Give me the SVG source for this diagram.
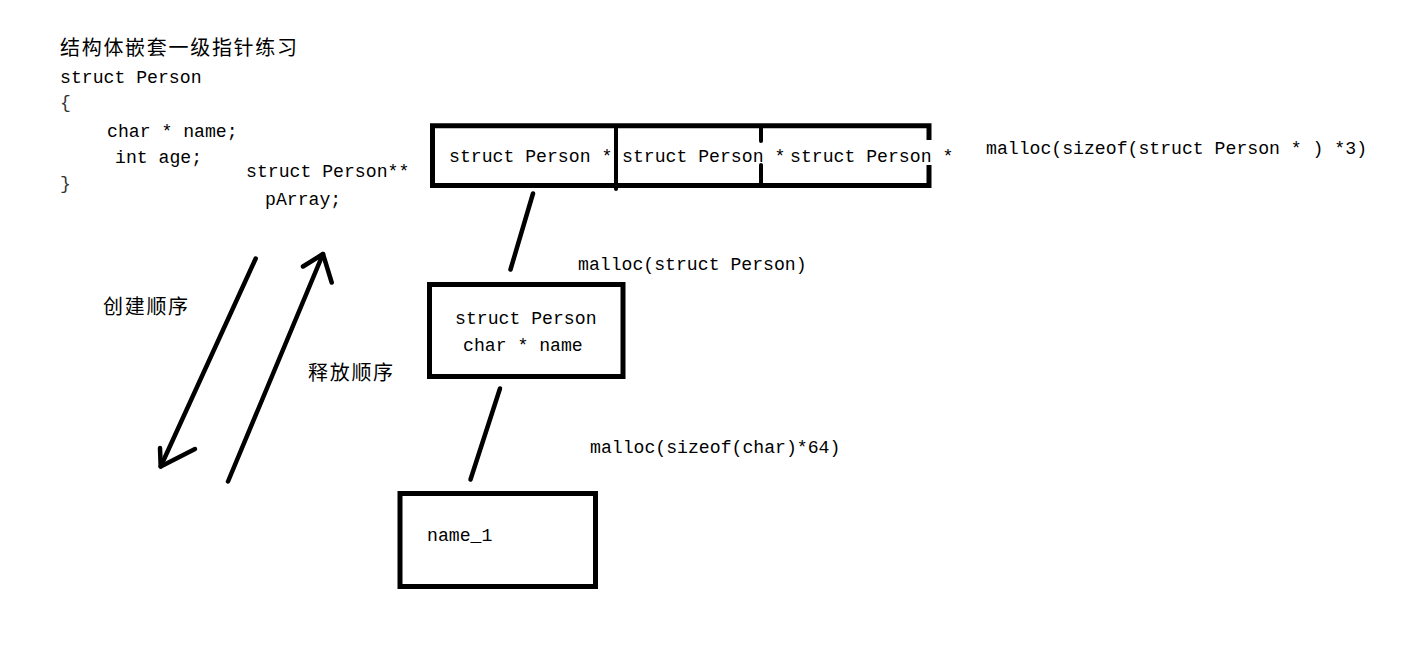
<svg xmlns="http://www.w3.org/2000/svg" width="1424" height="648" viewBox="0 0 1424 648">
  <style>
    .code { font-family: "Liberation Mono", "Noto Sans CJK SC", monospace; font-size: 18.15px; fill: #000; }
    .cjk { font-family: "Noto Sans CJK SC", sans-serif; font-size: 20px; fill: #000; letter-spacing: 1.7px; }
    .brace { fill: #333; }
    .box { fill: #fff; stroke: #000; stroke-width: 5; stroke-linejoin: miter; }
    .edge { fill: none; stroke: #000; stroke-width: 5; stroke-linecap: butt; }
    .div { stroke: #000; stroke-width: 4; stroke-linecap: round; }
    .conn { fill: none; stroke: #000; stroke-width: 4.5; stroke-linecap: round; stroke-linejoin: round; }
  </style>
  <rect x="0" y="0" width="1424" height="648" fill="#fff"/>

  <g id="code-block">
    <text class="cjk" x="60" y="55">结构体嵌套一级指针练习</text>
    <text class="code" x="60" y="83">struct Person</text>
    <text class="code brace" x="60" y="108">{</text>
    <text class="code" x="107" y="137">char * name;</text>
    <text class="code" x="115" y="163">int age;</text>
    <text class="code brace" x="60" y="189">}</text>
  </g>

  <g id="parray">
    <text class="code" x="246" y="177">struct Person**</text>
    <text class="code" x="265" y="205">pArray;</text>
  </g>

  <g id="pointer-array">
    <path class="edge" d="M929 140 V125.8 H432.5 V185.5 H929 V165"/>
    <line class="div" x1="616" y1="127" x2="616" y2="189"/>
    <line class="div" x1="761" y1="127" x2="761" y2="141" stroke-linecap="butt"/>
    <line class="div" x1="761" y1="165" x2="761" y2="185" stroke-linecap="butt"/>
    <text class="code" x="449" y="162">struct Person *</text>
    <text class="code" x="622" y="162">struct Person *</text>
    <text class="code" x="790" y="162">struct Person *</text>
  </g>

  <g id="person-node">
    <rect class="box" x="429.5" y="284.5" width="193.5" height="92"/>
    <text class="code" x="455" y="324">struct Person</text>
    <text class="code" x="463" y="351">char * name</text>
  </g>

  <g id="name-node">
    <rect class="box" x="400" y="493.5" width="195.5" height="93"/>
    <text class="code" x="427" y="541">name_1</text>
  </g>

  <g id="labels">
    <text class="code" x="986" y="154">malloc(sizeof(struct Person * ) *3)</text>
    <text class="code" x="578" y="270">malloc(struct Person)</text>
    <text class="code" x="590" y="453">malloc(sizeof(char)*64)</text>
    <text class="cjk" x="103" y="314">创建顺序</text>
    <text class="cjk" x="308" y="380">释放顺序</text>
  </g>

  <g id="connectors">
    <line class="conn" x1="533" y1="193.5" x2="510.5" y2="269.5"/>
    <line class="conn" x1="500" y1="388.5" x2="470.5" y2="479.5"/>
    <line class="conn" x1="255.7" y1="258.5" x2="160.7" y2="466.5"/>
    <polyline class="conn" points="160,448 160.7,466.5 195,449"/>
    <line class="conn" x1="228" y1="481.5" x2="323" y2="254"/>
    <polyline class="conn" points="303,266.5 323,254 331.7,282.5"/>
  </g>
</svg>
